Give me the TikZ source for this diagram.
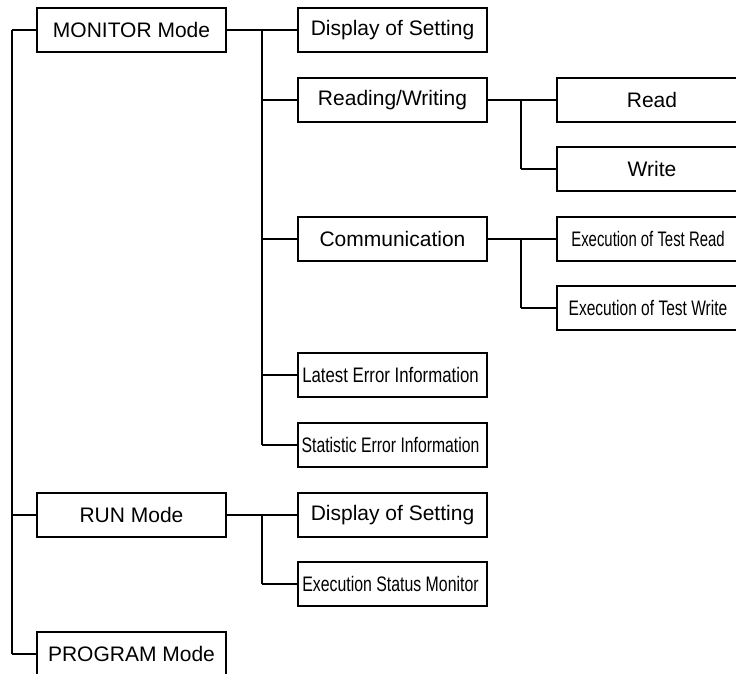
\documentclass[tikz,border=0pt]{standalone}
\usepackage{fontspec}
\setmainfont{Liberation Sans}
\begin{document}
\begin{tikzpicture}[x=1pt,y=-1pt,
  box/.style={draw,line width=1.6pt,fill=white,minimum width=189pt,minimum height=44pt,inner sep=0pt,font=\fontsize{21}{25}\selectfont},
  wbox/.style={box,minimum width=190pt},
  conn/.style={line width=1.6pt}]
\useasboundingbox (0,0) rectangle (736,673);
% level 1
\node[box] (mon) at (131.5,30) {MONITOR Mode};
\node[box] (run) at (131.5,515) {RUN Mode};
\node[box] (prog) at (131.5,654) {PROGRAM Mode};
% level 2
\node[box] (disp1) at (392.5,30) {Display of Setting};
\node[box] (rw) at (392.5,100) {Reading/Writing};
\node[box] (comm) at (392.5,239) {Communication};
\node[box] (late) at (392.5,375) {\hspace*{-4pt}\scalebox{0.8}[1]{Latest Error Information}};
\node[box] (stat) at (392.5,445) {\hspace*{-4pt}\scalebox{0.75}[1]{Statistic Error Information}};
\node[box] (disp2) at (392.5,515) {Display of Setting};
\node[box] (exst) at (392.5,584) {\hspace*{-4pt}\scalebox{0.755}[1]{Execution Status Monitor}};
% level 3
\node[wbox] (read) at (652,100) {Read};
\node[wbox] (write) at (652,169) {Write};
\node[wbox] (tread) at (652,239) {\hspace*{-8pt}\scalebox{0.71}[1]{Execution of Test Read}};
\node[wbox] (twrite) at (652,308) {\hspace*{-8pt}\scalebox{0.74}[1]{Execution of Test Write}};
% junction coordinates
\coordinate (s0) at (12,0);
\coordinate (s1) at (262,0);
\coordinate (s2) at (521,0);
% spines
\draw[conn] (s0 |- mon) -- (s0 |- prog);
\draw[conn] (s1 |- disp1) -- (s1 |- stat);
\draw[conn] (s1 |- disp2) -- (s1 |- exst);
\draw[conn] (s2 |- read) -- (s2 |- write);
\draw[conn] (s2 |- tread) -- (s2 |- twrite);
% branches
\foreach \n in {mon,run,prog} \draw[conn] (s0 |- \n) -- (\n.west);
\draw[conn] (mon.east) -- (s1 |- mon);
\draw[conn] (run.east) -- (s1 |- run);
\foreach \n in {disp1,rw,comm,late,stat,disp2,exst} \draw[conn] (s1 |- \n) -- (\n.west);
\draw[conn] (rw.east) -- (s2 |- rw);
\draw[conn] (comm.east) -- (s2 |- comm);
\foreach \n in {read,write,tread,twrite} \draw[conn] (s2 |- \n) -- (\n.west);
\end{tikzpicture}
\end{document}
